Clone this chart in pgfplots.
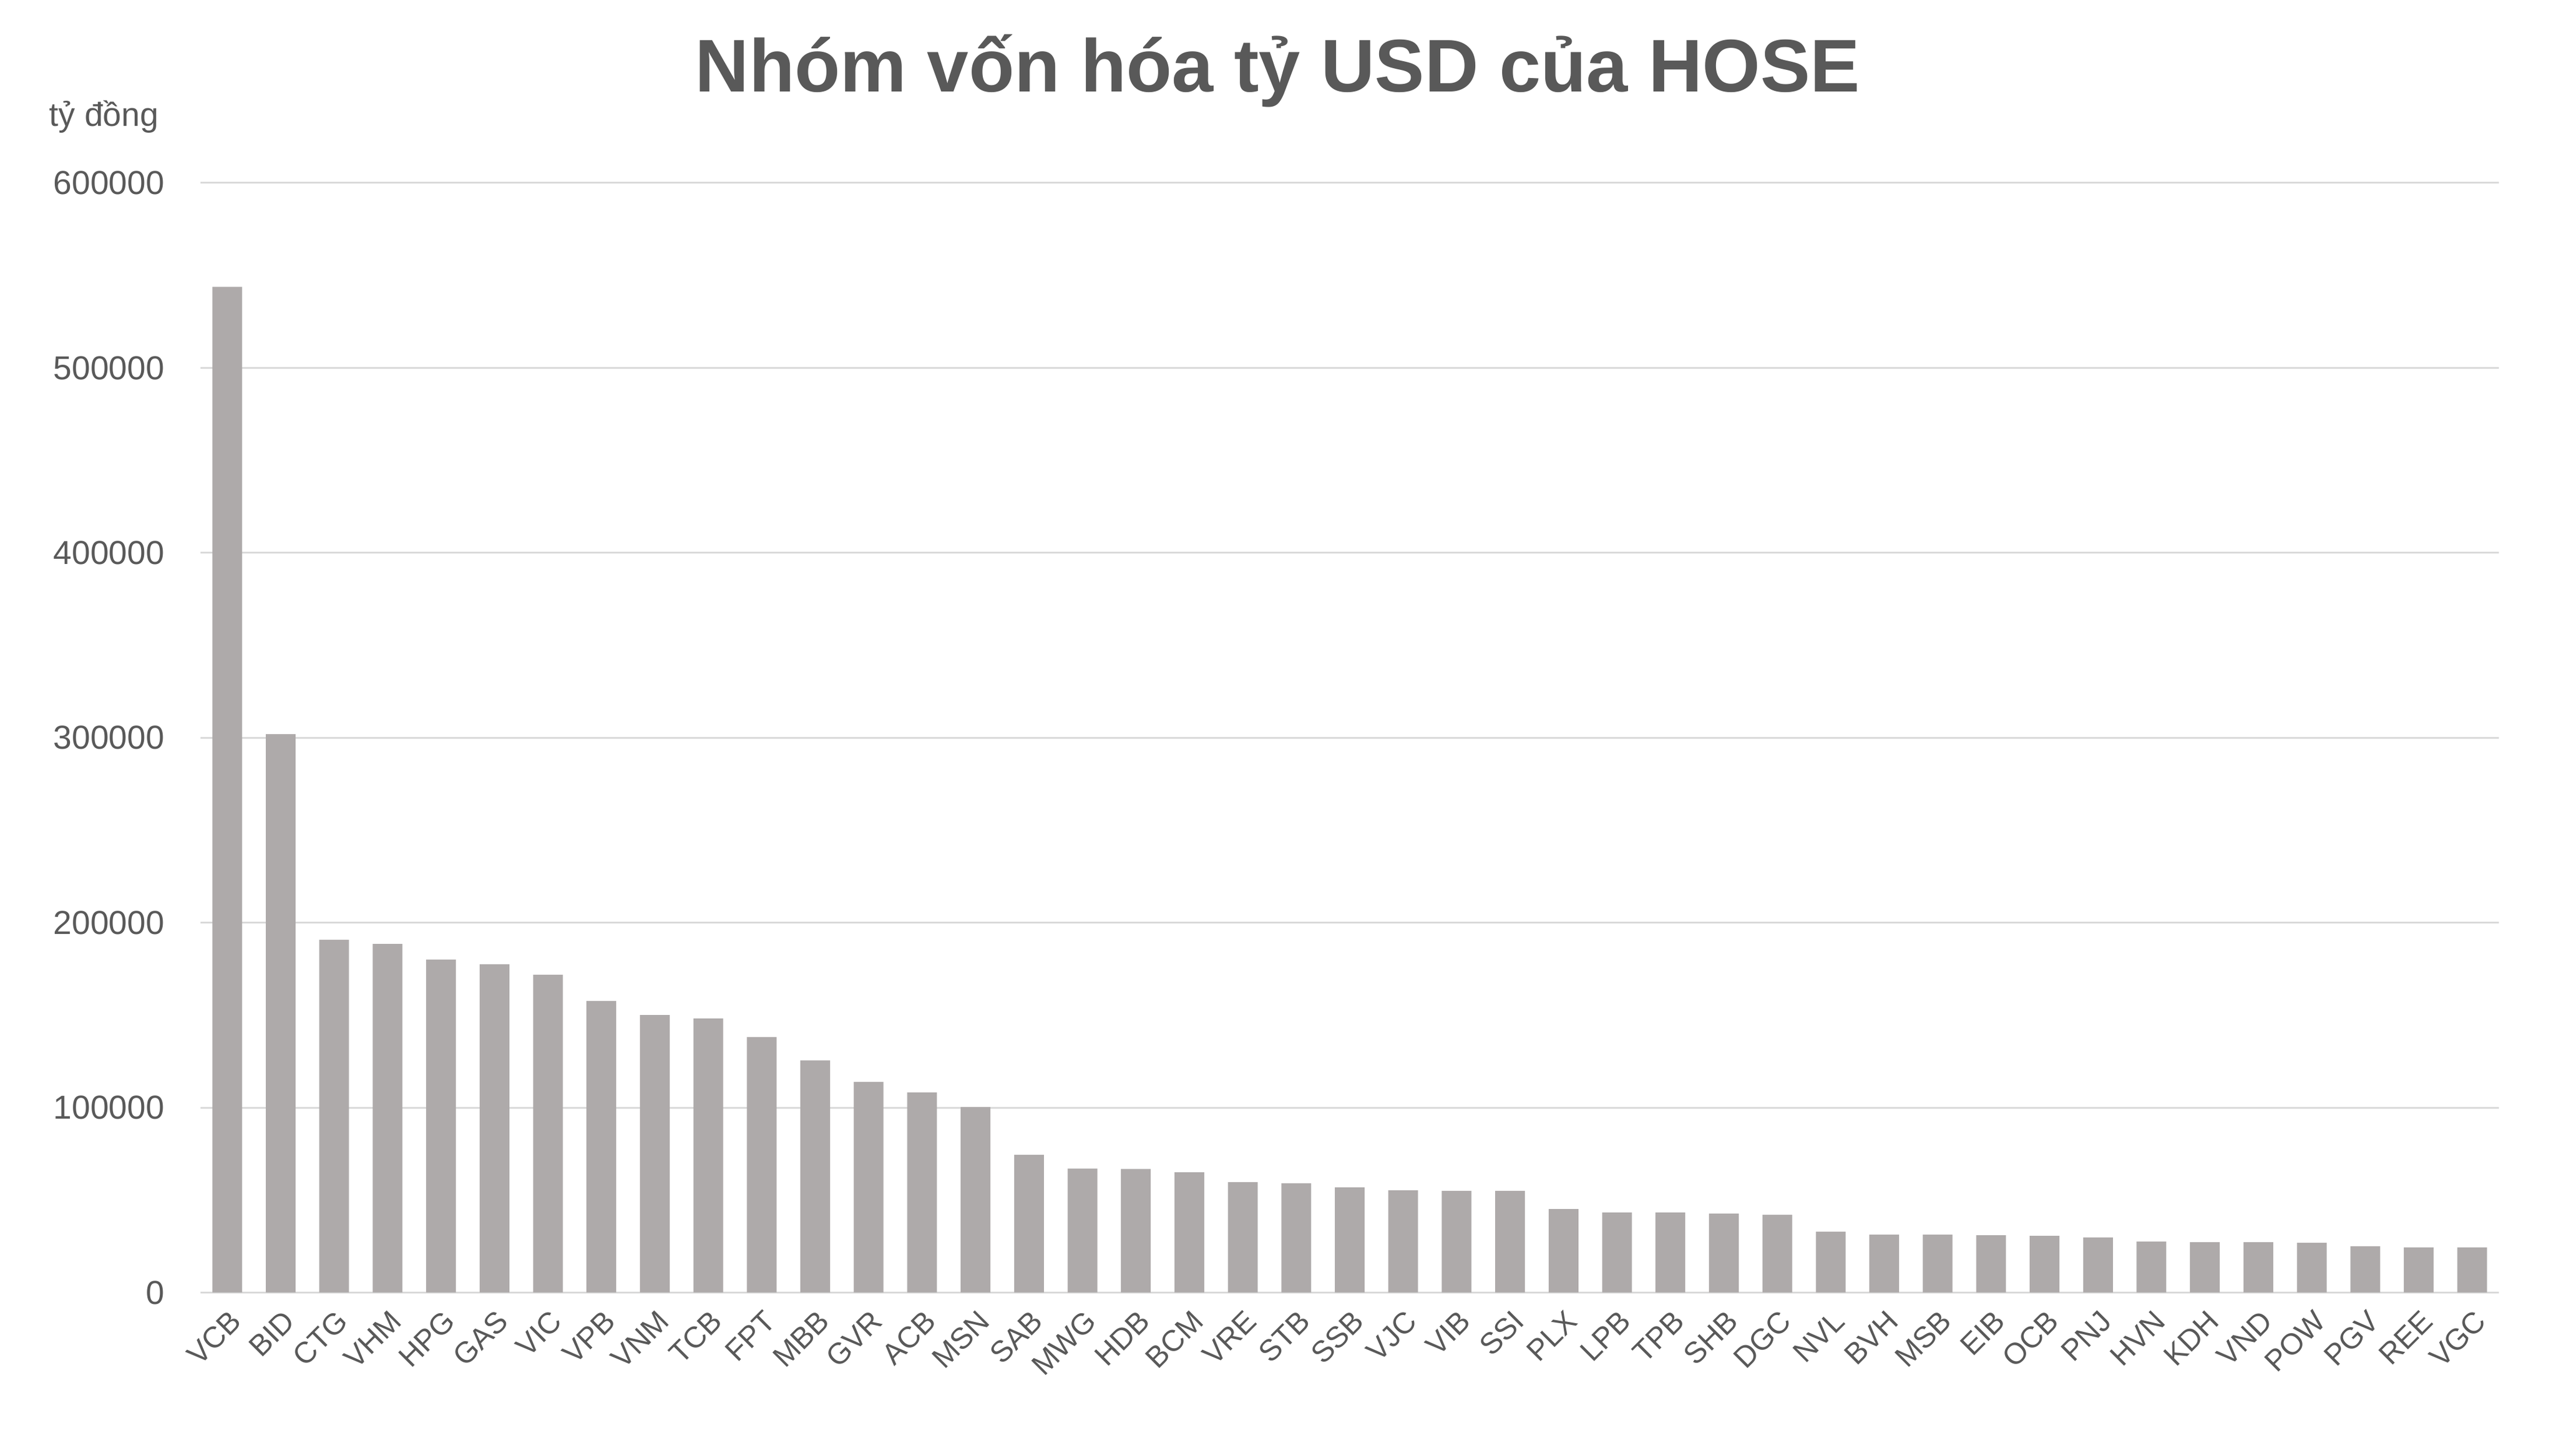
\documentclass[border=0pt]{standalone}
\usepackage{fontspec}
\setmainfont{Liberation Sans}
\usepackage{pgfplots}
\usepackage{pgfplotstable}
\pgfplotsset{compat=1.18}

\definecolor{txt}{HTML}{595959}
\definecolor{barc}{HTML}{AEAAAA}
\definecolor{gridc}{HTML}{D9D9D9}

% market cap, ty dong
\pgfplotstableread{
idx code value
0 VCB 543800
1 BID 301900
2 CTG 190700
3 VHM 188500
4 HPG 180000
5 GAS 177500
6 VIC 171800
7 VPB 157600
8 VNM 150100
9 TCB 148200
10 FPT 138100
11 MBB 125500
12 GVR 113900
13 ACB 108200
14 MSN 100300
15 SAB 74500
16 MWG 67100
17 HDB 66800
18 BCM 65000
19 VRE 59700
20 STB 59100
21 SSB 56900
22 VJC 55300
23 VIB 55000
24 SSI 55000
25 PLX 45200
26 LPB 43300
27 TPB 43300
28 SHB 42700
29 DGC 42000
30 NVL 32900
31 BVH 31300
32 MSB 31300
33 EIB 31000
34 OCB 30700
35 PNJ 29800
36 HVN 27600
37 KDH 27200
38 VND 27200
39 POW 26900
40 PGV 25000
41 REE 24400
42 VGC 24400
}\caps

\begin{document}
\begin{tikzpicture}
\path (-68.8pt,-56.1pt) rectangle (808.2pt,443.7pt);
\begin{axis}[
    at={(0,0)}, anchor=south west,
    scale only axis, width=788.6pt, height=380.9pt,
    xmin=-0.5, xmax=42.5, ymin=0, ymax=600000,
    axis line style={draw=none},
    major tick length=0pt,
    ymajorgrids, grid style={color=gridc, line width=0.6pt},
    ytick={0,100000,...,600000},
    scaled y ticks=false,
    /pgf/number format/fixed,
    /pgf/number format/1000 sep={},
    /pgf/number format/assume math mode=true,
    ticklabel style={text=txt},
    yticklabel style={font=\fontsize{11.4}{13}\selectfont, anchor=east, inner sep=0pt, xshift=-12.2pt},
    xtick=data,
    xticklabels from table={\caps}{code},
    xticklabel style={font=\fontsize{10.2}{12}\selectfont, xshift=3pt, yshift=-8pt, rotate=45, anchor=east, inner sep=0pt},
  ]
  \addplot[ybar, fill=barc, draw=none, bar width=10.2pt] table[x=idx, y=value] {\caps};
\end{axis}
\node[anchor=base, inner sep=0pt, text=txt, font=\bfseries\fontsize{25.6}{30}\selectfont] at (369.6pt,412.1pt) {Nhóm vốn hóa tỷ USD của HOSE};
\node[anchor=base west, inner sep=0pt, text=txt, font=\fontsize{11.4}{13}\selectfont] at (-52pt,400.3pt) {tỷ đồng};
\end{tikzpicture}
\end{document}
